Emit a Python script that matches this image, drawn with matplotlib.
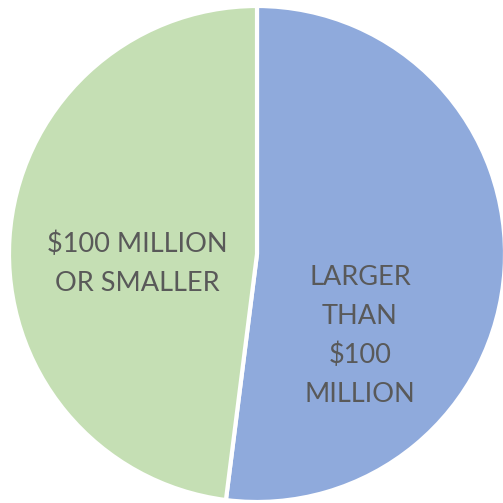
import matplotlib
matplotlib.use("Agg")
import matplotlib.pyplot as plt

categories = ["LARGER\nTHAN\n$100\nMILLION", "$100 MILLION\nOR SMALLER"]
shares = [52, 48]
colors = ["#8FAADC", "#C5DFB4"]

fig = plt.figure(figsize=(5.03, 5.03), dpi=100)
ax = fig.add_axes([0, 0, 1, 1])
wedges, texts = ax.pie(
    shares, labels=categories, colors=colors, startangle=90, counterclock=False,
    radius=1, wedgeprops=dict(edgecolor="white", linewidth=3),
    textprops=dict(fontsize=19.5, color="#595959", family="Lato", ha="center", va="center",
                   linespacing=1.68),
)
# label placement inside each wedge
texts[0].set_position((0.415, -0.33))
texts[1].set_position((-0.484, -0.04))
for t in texts:
    t.set_ha("center")
    t.set_va("center")

r = 248.0
ax.set_xlim(-257 / r, (503 - 257) / r)
ax.set_ylim(-(503 - 254) / r, 254 / r)
ax.set_aspect("auto")
ax.axis("off")
fig.savefig("out.png", dpi=100)
